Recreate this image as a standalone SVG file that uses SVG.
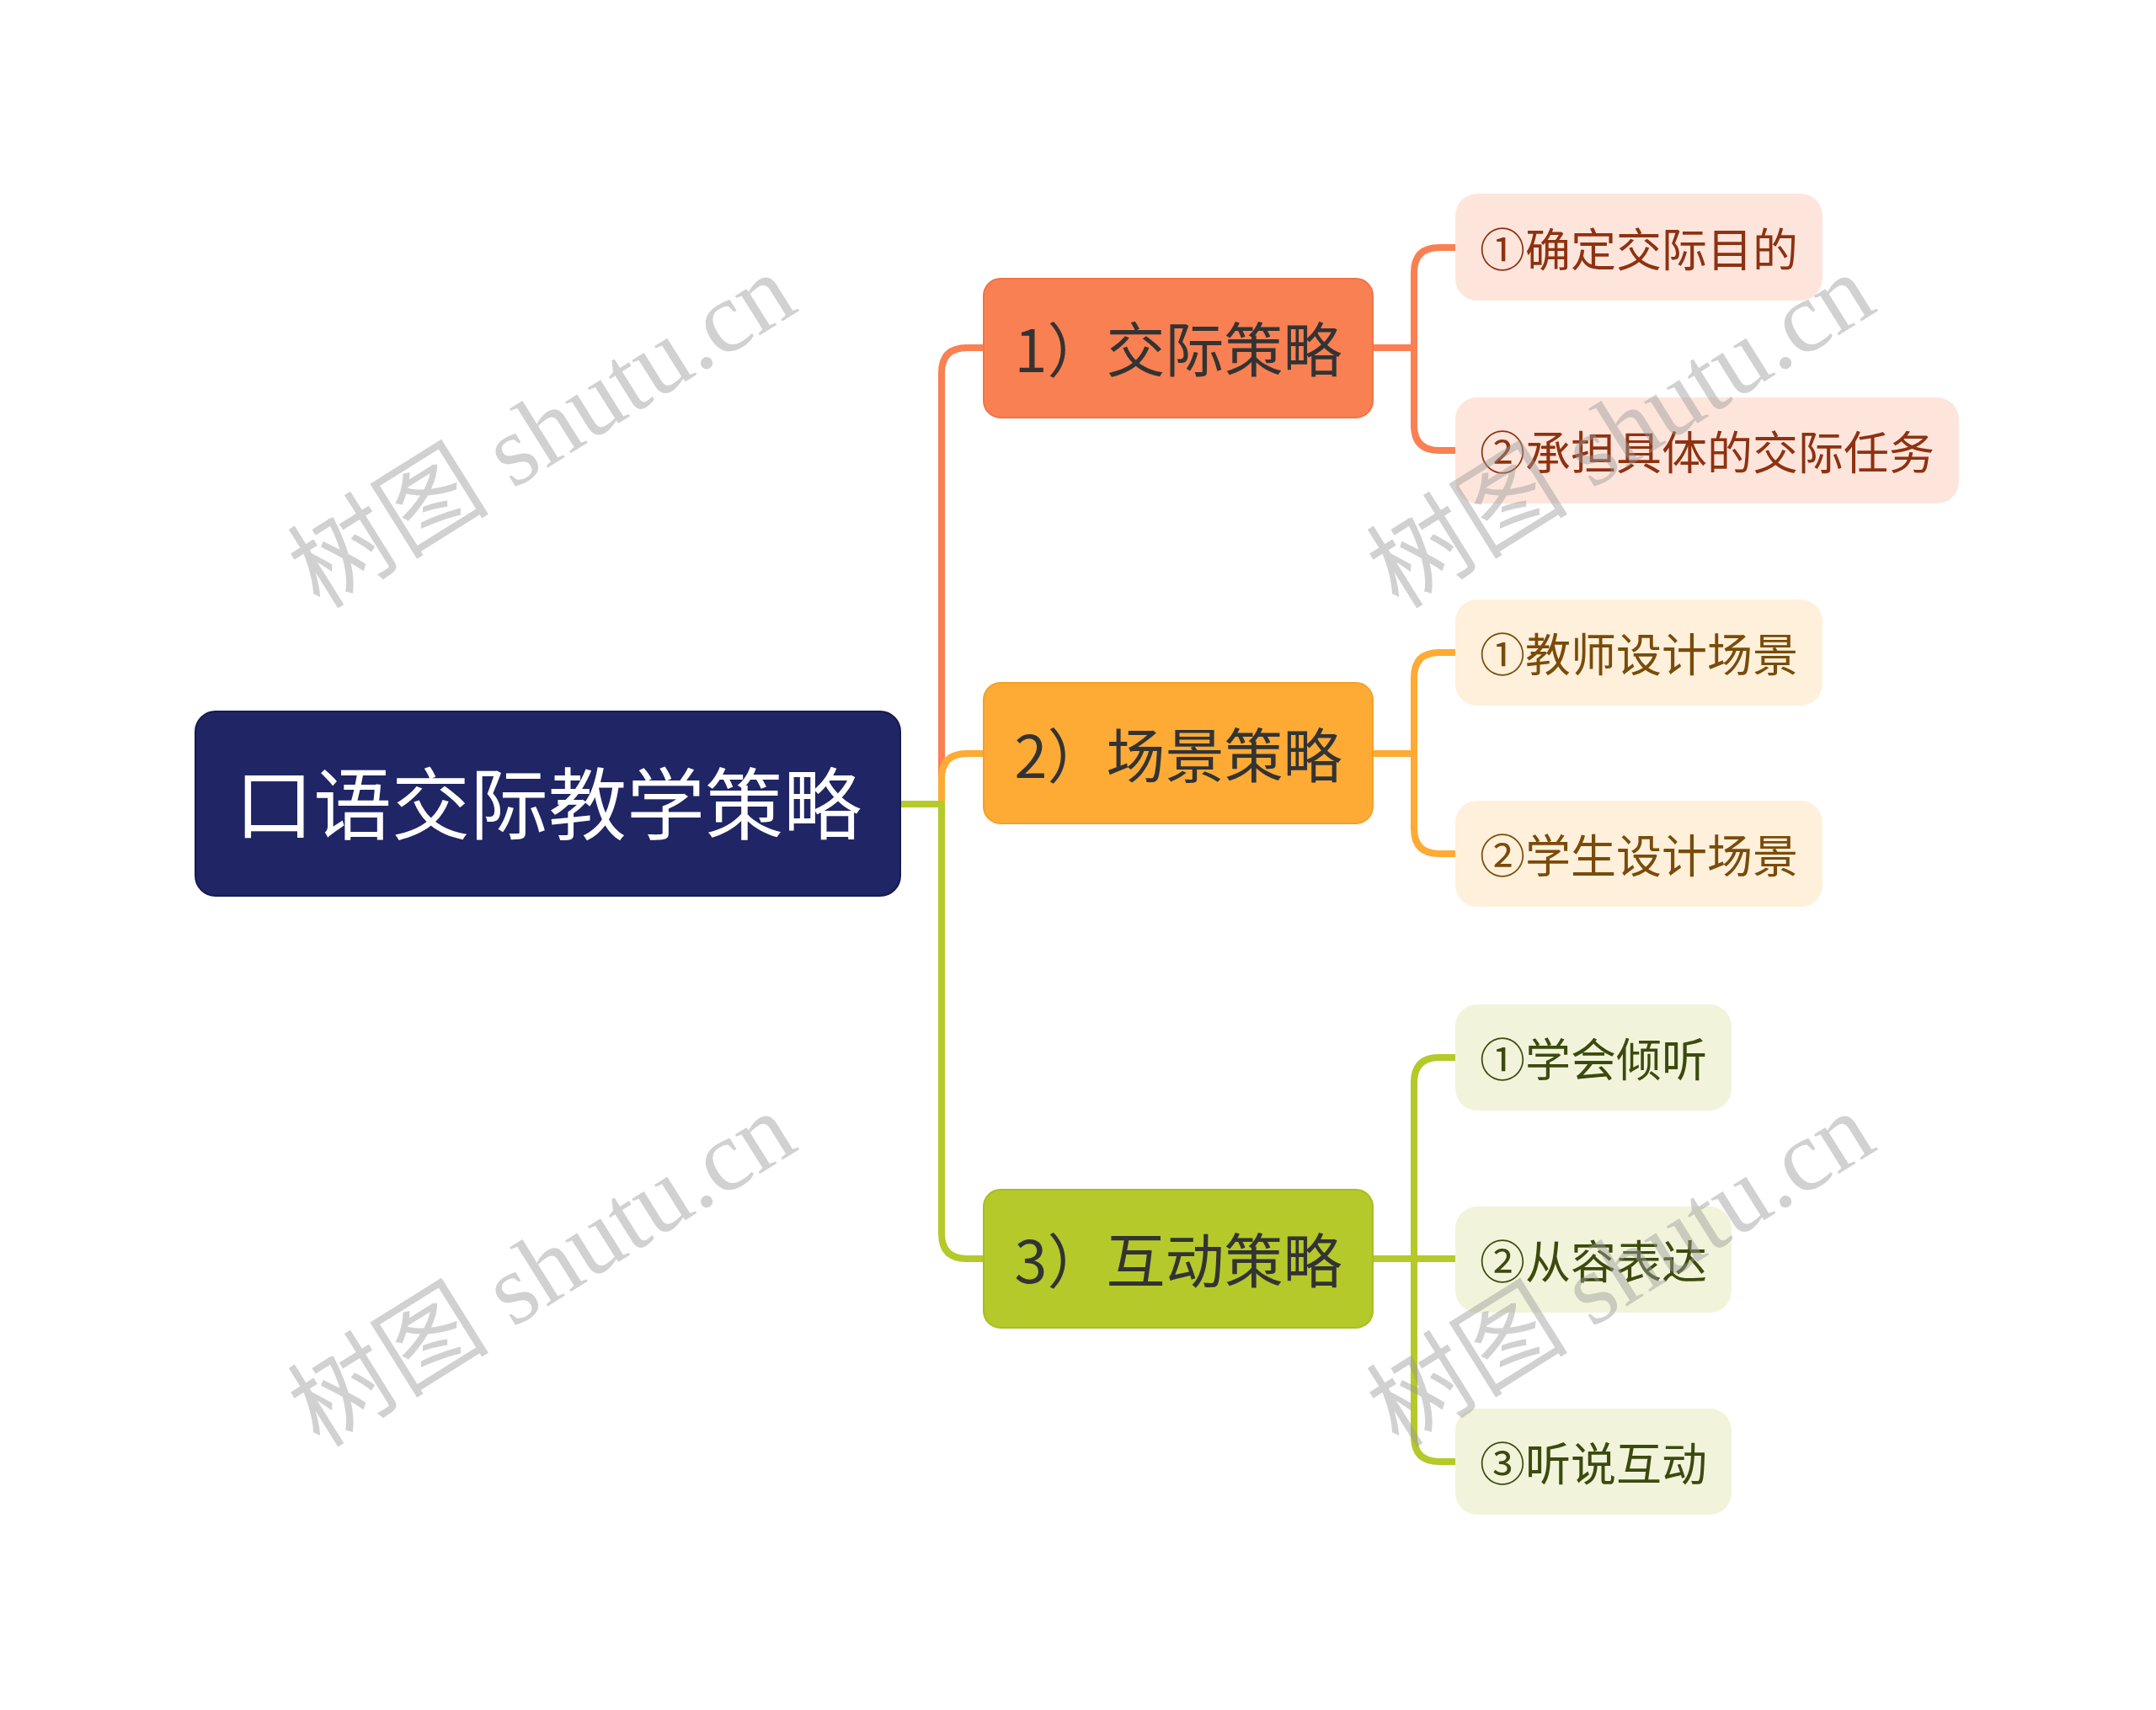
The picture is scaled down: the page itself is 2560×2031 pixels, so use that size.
<svg xmlns="http://www.w3.org/2000/svg" width="2560" height="2031" viewBox="0 0 2560 2031">
<style>
text{font-family:"Noto Sans CJK SC","Microsoft YaHei",sans-serif;text-anchor:middle}
.root{fill:#1F2565}
.rt{fill:#FFFFFF;font-size:93px}
.l1t{fill:#333333;font-size:70px}
.l2t{font-size:54px}
.c{fill:none;stroke-width:8;stroke-linecap:butt;stroke-linejoin:round}
.wm{font-family:"Liberation Serif","Noto Sans CJK SC",serif;font-size:120px;fill:#9a9a9a;opacity:0.45;text-anchor:middle}
</style>
<rect width="2560" height="2031" fill="#FFFFFF"/>
<g id="connectors">
<path class="c" stroke="#F98052" d="M1118 955 V443 Q1118 413 1148 413 H1168"/>
<path class="c" stroke="#FDAB35" d="M1118 955 V925 Q1118 895 1148 895 H1168"/>
<path class="c" stroke="#B5C92A" d="M1069 955 H1118 V1465 Q1118 1495 1148 1495 H1168"/>
<path class="c" stroke="#F98052" d="M1630 413 H1679 M1728 294 H1709 Q1679 294 1679 324 V505 Q1679 535 1709 535 H1728"/>
<path class="c" stroke="#FDAB35" d="M1630 895 H1679 M1728 775 H1709 Q1679 775 1679 805 V984 Q1679 1014 1709 1014 H1728"/>
<path class="c" stroke="#B5C92A" d="M1630 1495 H1728 M1728 1256 H1709 Q1679 1256 1679 1286 V1706 Q1679 1736 1709 1736 H1728"/>
</g>
<g id="root">
<rect class="root" x="232" y="845" width="837" height="219" rx="24" stroke="#161B4F" stroke-width="2"/>
<text class="rt" x="651" y="990">口语交际教学策略</text>
</g>
<g id="n1">
<rect x="1168" y="331" width="462" height="165" rx="20" fill="#F98052" stroke="#EF7446" stroke-width="2"/>
<text class="l1t" x="1399" y="442">1）交际策略</text>
</g>
<g id="n2">
<rect x="1168" y="811" width="462" height="167" rx="20" fill="#FDAB35" stroke="#F4A02A" stroke-width="2"/>
<text class="l1t" x="1399" y="924">2）场景策略</text>
</g>
<g id="n3">
<rect x="1168" y="1413" width="462" height="164" rx="20" fill="#B5C92A" stroke="#A9BD22" stroke-width="2"/>
<text class="l1t" x="1399" y="1524">3）互动策略</text>
</g>
<g id="n1a">
<rect x="1728" y="230" width="436" height="127" rx="26" fill="#FEE5DC"/>
<text class="l2t" x="1946" y="317" fill="#8E3211">①确定交际目的</text>
</g>
<g id="n1b">
<rect x="1728" y="472" width="598" height="126" rx="26" fill="#FEE5DC"/>
<text class="l2t" x="2027" y="558" fill="#8E3211">②承担具体的交际任务</text>
</g>
<g id="n2a">
<rect x="1728" y="712" width="436" height="126" rx="26" fill="#FEF0DA"/>
<text class="l2t" x="1946" y="798" fill="#7A4B0A">①教师设计场景</text>
</g>
<g id="n2b">
<rect x="1728" y="951" width="436" height="126" rx="26" fill="#FEF0DA"/>
<text class="l2t" x="1946" y="1037" fill="#7A4B0A">②学生设计场景</text>
</g>
<g id="n3a">
<rect x="1728" y="1193" width="328" height="126" rx="26" fill="#F1F4DA"/>
<text class="l2t" x="1892" y="1279" fill="#3C4A0E">①学会倾听</text>
</g>
<g id="n3b">
<rect x="1728" y="1433" width="328" height="126" rx="26" fill="#F1F4DA"/>
<text class="l2t" x="1892" y="1519" fill="#3C4A0E">②从容表达</text>
</g>
<g id="n3c">
<rect x="1728" y="1673" width="328" height="126" rx="26" fill="#F1F4DA"/>
<text class="l2t" x="1892" y="1759" fill="#3C4A0E">③听说互动</text>
</g>
<g id="watermarks">
<text class="wm" transform="translate(645 514) rotate(-32)" y="38">树图 shutu.cn</text>
<text class="wm" transform="translate(1926 514) rotate(-32)" y="38">树图 shutu.cn</text>
<text class="wm" transform="translate(645 1510) rotate(-32)" y="38">树图 shutu.cn</text>
<text class="wm" transform="translate(1926 1510) rotate(-32)" y="38">树图 shutu.cn</text>
</g>
</svg>
